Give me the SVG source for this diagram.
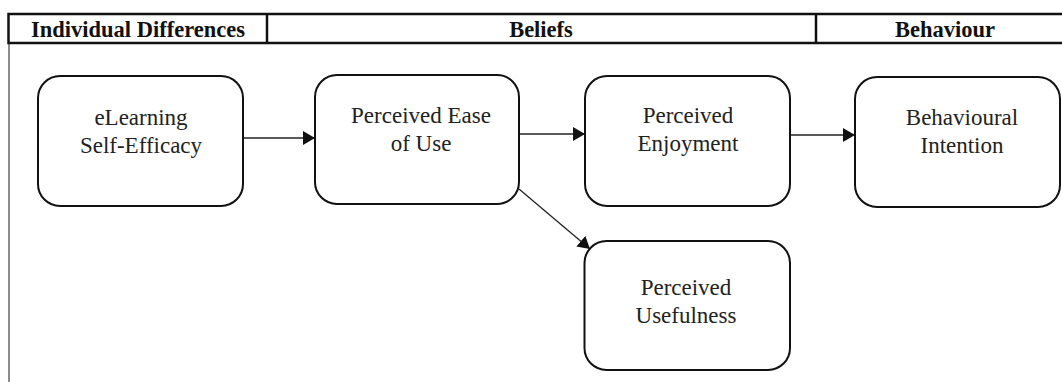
<svg xmlns="http://www.w3.org/2000/svg" width="1062" height="382" viewBox="0 0 1062 382">
<defs>
<style>
.hdr{fill:#fff;stroke:#111;stroke-width:2.5}
.hd{font-family:"Liberation Serif","Times New Roman",serif;font-weight:bold;font-size:22.5px;fill:#111;text-anchor:middle}
.box{fill:#fff;stroke:#111;stroke-width:2}
.lbl{font-family:"Liberation Serif","Times New Roman",serif;font-size:23px;fill:#222;text-anchor:middle}
.con{stroke:#222;stroke-width:1.3;fill:none;marker-end:url(#ah)}
</style>
<marker id="ah" viewBox="0 0 12 14" refX="12" refY="7" markerWidth="12" markerHeight="14" markerUnits="userSpaceOnUse" orient="auto">
<path d="M0,0 L12,7 L0,14 Z" fill="#111"/>
</marker>
</defs>
<rect width="1062" height="382" fill="#fff"/>
<g id="header">
<line x1="9" y1="43" x2="9" y2="382" stroke="#666" stroke-width="1.5"/>
<rect class="hdr" x="8.5" y="14" width="1070" height="29"/>
<line x1="267" y1="14" x2="267" y2="43" stroke="#111" stroke-width="2.5"/>
<line x1="816" y1="14" x2="816" y2="43" stroke="#111" stroke-width="2.5"/>
<text class="hd" x="138" y="37">Individual Differences</text>
<text class="hd" x="541" y="37">Beliefs</text>
<text class="hd" x="945" y="37">Behaviour</text>
</g>
<g id="connectors">
<line class="con" x1="243" y1="138" x2="315" y2="138"/>
<line class="con" x1="519" y1="134" x2="585" y2="134"/>
<line class="con" x1="790" y1="135" x2="855" y2="135"/>
<line class="con" x1="519" y1="189" x2="590" y2="249"/>
</g>
<g id="n1">
<rect class="box" x="38" y="76" width="205" height="130" rx="22"/>
<text class="lbl" x="141" y="125">eLearning</text>
<text class="lbl" x="141" y="153">Self-Efficacy</text>
</g>
<g id="n2">
<rect class="box" x="315" y="75" width="204" height="129" rx="22"/>
<text class="lbl" x="421" y="123">Perceived Ease</text>
<text class="lbl" x="421" y="151">of Use</text>
</g>
<g id="n3">
<rect class="box" x="585" y="76" width="205" height="130" rx="22"/>
<text class="lbl" x="688" y="123">Perceived</text>
<text class="lbl" x="688" y="151">Enjoyment</text>
</g>
<g id="n4">
<rect class="box" x="584.5" y="241" width="205.5" height="129" rx="22"/>
<text class="lbl" x="686" y="295">Perceived</text>
<text class="lbl" x="686" y="323">Usefulness</text>
</g>
<g id="n5">
<rect class="box" x="855" y="77" width="205" height="130" rx="22"/>
<text class="lbl" x="962" y="125">Behavioural</text>
<text class="lbl" x="962" y="153">Intention</text>
</g>
</svg>
